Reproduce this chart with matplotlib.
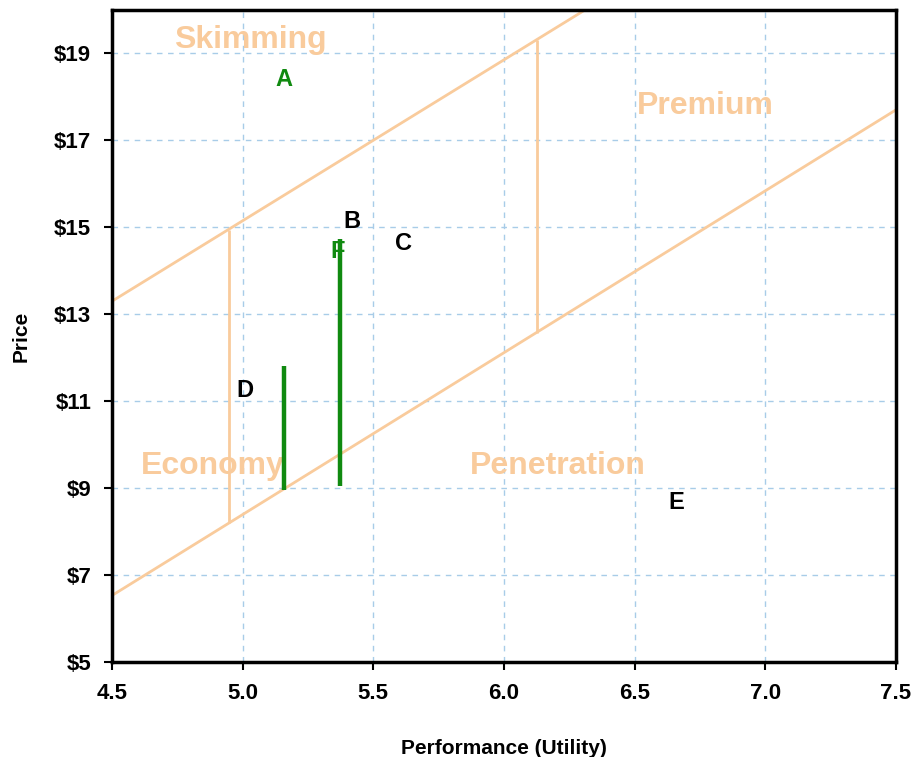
import matplotlib
matplotlib.use("Agg")
import matplotlib.pyplot as plt

# Band boundary lines (Performance, Price)
upper_x = [4.5, 6.31]
upper_y = [13.3, 20.0]
lower_x = [4.5, 7.5]
lower_y = [6.53, 17.7]
# Vertical segment dividers
div_x = [4.948, 6.126]
div_lo = [8.2, 12.58]
div_hi = [14.93, 19.32]

# Green range bars
bar_x = [5.158, 5.373]
bar_lo = [8.96, 9.05]
bar_hi = [11.8, 14.72]

# Product labels
prod_names = ["A", "B", "C", "D", "E", "F"]
prod_x = [5.158, 5.418, 5.617, 5.009, 6.658, 5.365]
prod_y = [18.4, 15.13, 14.62, 11.24, 8.68, 14.44]
prod_green = [True, False, False, False, False, True]

# Region labels
region_names = ["Skimming", "Premium", "Economy", "Penetration"]
region_x = [5.03, 6.77, 4.886, 6.207]
region_y = [19.3, 17.78, 9.51, 9.51]

xticks = [4.5, 5.0, 5.5, 6.0, 6.5, 7.0, 7.5]
yticks = [5, 7, 9, 11, 13, 15, 17, 19]

peach = "#F9CB9C"
green = "#108A10"

plt.rcParams['font.family'] = ['Liberation Sans', 'DejaVu Sans']

fig = plt.figure(figsize=(9.15, 7.57), dpi=100)
ax = fig.add_axes([0.1224, 0.1255, 0.979 - 0.1224, 0.9868 - 0.1255])

ax.plot(upper_x, upper_y, color=peach, lw=2, zorder=2)
ax.plot(lower_x, lower_y, color=peach, lw=2, zorder=2)
ax.vlines(div_x, div_lo, div_hi, color=peach, lw=2, zorder=2)
ax.vlines(bar_x, bar_lo, bar_hi, color=green, lw=3.2, zorder=3)

for n, x, y in zip(region_names, region_x, region_y):
    ax.text(x, y, n, color=peach, fontsize=23, fontweight='bold',
            ha='center', va='center', zorder=1)

for n, x, y, g in zip(prod_names, prod_x, prod_y, prod_green):
    ax.text(x, y, n, color=green if g else 'black', fontsize=17,
            fontweight='bold', ha='center', va='center', zorder=4)

ax.set_xlim(4.5, 7.5)
ax.set_ylim(5, 20)
ax.set_xticks(xticks)
ax.set_xticklabels([f"{v:.1f}" for v in xticks])
ax.set_yticks(yticks)
ax.set_yticklabels([f"${v}" for v in yticks])
ax.tick_params(axis='both', labelsize=16, width=1.5, length=6, direction='out')
ax.tick_params(axis='y', pad=9)
ax.tick_params(axis='x', pad=9)
for lbl in ax.get_xticklabels() + ax.get_yticklabels():
    lbl.set_fontweight('bold')
ax.grid(True, color='#A8CCE8', linestyle=(0, (4, 4)), lw=1)
ax.set_axisbelow(True)
for s in ax.spines.values():
    s.set_linewidth(2.5)
    s.set_color('black')

ax.set_xlabel("Performance (Utility)", fontsize=15, fontweight='bold', labelpad=25)
ax.set_ylabel("Price", fontsize=15, fontweight='bold', labelpad=17)

fig.savefig("out.png", dpi=100)
